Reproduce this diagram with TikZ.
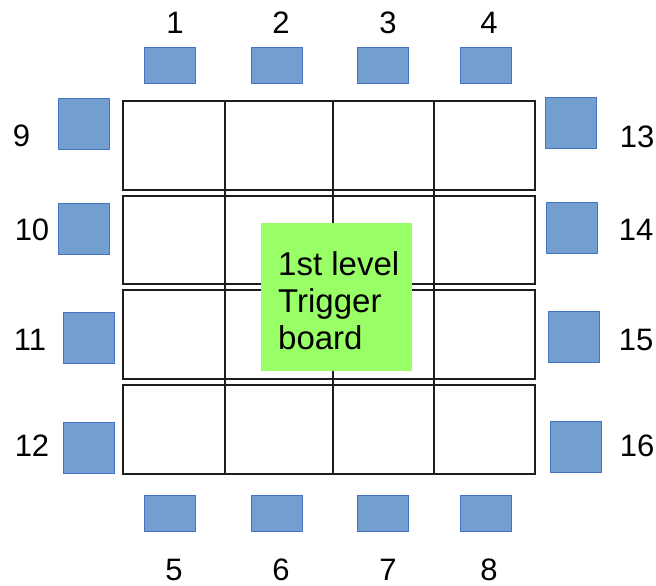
\documentclass[tikz,border=0pt]{standalone}
\usepackage{fontspec}
\setmainfont{Liberation Sans}
\definecolor{chipfill}{RGB}{114,159,207}
\definecolor{chipdraw}{RGB}{68,114,196}
\definecolor{boardgreen}{RGB}{153,255,102}
\definecolor{gridline}{RGB}{30,30,30}
\begin{document}
\begin{tikzpicture}[x=1pt,y=-1pt,
  chip/.style={draw=chipdraw,fill=chipfill,line width=1pt,inner sep=0pt},
  hchip/.style={chip,minimum width=51pt,minimum height=36pt},
  schip/.style={chip,minimum width=51pt,minimum height=51pt},
  num/.style={inner sep=0pt,font=\fontsize{31}{31}\selectfont},
  cellrow/.style={draw=gridline,line width=1.4pt},
  gridv/.style={draw=gridline,line width=1.4pt}]
\useasboundingbox (0,0) rectangle (656,586);
% grid rows
\draw[cellrow] (123,101) rectangle (535,190);
\draw[cellrow] (123,196) rectangle (535,284);
\draw[cellrow] (123,290) rectangle (535,379);
\draw[cellrow] (123,385) rectangle (535,474);
\foreach \x in {225,333,434} \draw[gridv] (\x,101) -- (\x,474);
% green board
\node[fill=boardgreen,minimum width=151pt,minimum height=148pt,inner sep=0pt] (board) at (336.5,297) {};
\node[anchor=north west,inner sep=0pt,align=left,font=\fontsize{33}{37}\selectfont] (boardtext) at (278,251.5) {1st level\\Trigger\\board};
% top chips
\node[hchip] (c1) at (169.5,66) {};
\node[hchip] (c2) at (276.5,66) {};
\node[hchip] (c3) at (383,66) {};
\node[hchip] (c4) at (485.5,66) {};
\node[num] (l1) at (175,23) {1};
\node[num] (l2) at (281,23) {2};
\node[num] (l3) at (388,23) {3};
\node[num] (l4) at (489,23) {4};
% bottom chips
\node[hchip] (c5) at (169.5,513.5) {};
\node[hchip] (c6) at (276.5,513.5) {};
\node[hchip] (c7) at (383,513.5) {};
\node[hchip] (c8) at (485.5,513.5) {};
\node[num] (l5) at (174,569.5) {5};
\node[num] (l6) at (281,569.5) {6};
\node[num] (l7) at (388,569.5) {7};
\node[num] (l8) at (489,569.5) {8};
% left chips
\node[schip] (c9) at (83.5,123.5) {};
\node[schip] (c10) at (84,229) {};
\node[schip] (c11) at (88.5,337.5) {};
\node[schip] (c12) at (89,447.5) {};
\node[num] (l9) at (21.5,136) {9};
\node[num] (l10) at (32,230) {10};
\node[num] (l11) at (30,340) {11};
\node[num] (l12) at (32,446) {12};
% right chips
\node[schip] (c13) at (570.5,123) {};
\node[schip] (c14) at (572,227.5) {};
\node[schip] (c15) at (573.5,337) {};
\node[schip] (c16) at (575.5,447) {};
\node[num] (l13) at (637,137) {13};
\node[num] (l14) at (636,230) {14};
\node[num] (l15) at (636,340) {15};
\node[num] (l16) at (637,446) {16};
\end{tikzpicture}
\end{document}
